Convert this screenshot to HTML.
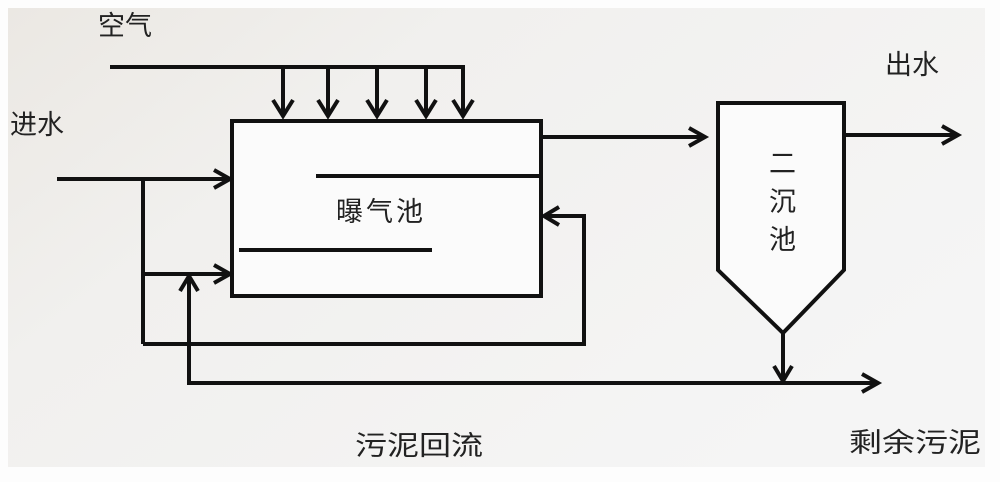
<!DOCTYPE html>
<html><head><meta charset="utf-8"><style>
html,body{margin:0;padding:0;background:#fff;}
svg{display:block;}
text{font-family:"Liberation Sans","Noto Sans CJK SC",sans-serif;fill:#222;}
</style></head><body>
<svg width="1000" height="482" viewBox="0 0 1000 482" xmlns="http://www.w3.org/2000/svg">
<defs>
<linearGradient id="bg" x1="0" y1="0" x2="1" y2="0.6">
<stop offset="0" stop-color="#ebe8e3"/>
<stop offset="0.35" stop-color="#f1f0ee"/>
<stop offset="1" stop-color="#f5f5f5"/>
</linearGradient>
</defs>
<rect x="0" y="0" width="1000" height="482" fill="#fdfdfd"/>
<rect x="8" y="8" width="977" height="459" fill="url(#bg)"/>
<g stroke="#111" stroke-width="4" fill="none" stroke-linecap="butt" stroke-linejoin="miter">
<!-- aeration tank -->
<rect x="232" y="121" width="309" height="175" fill="#fbfbfb"/>
<line x1="316" y1="176" x2="541" y2="176"/>
<line x1="239" y1="250" x2="432" y2="250"/>
<!-- air line -->
<polyline points="110,67 463,67 463,115"/>
<line x1="283" y1="67" x2="283" y2="115"/>
<line x1="328" y1="67" x2="328" y2="115"/>
<line x1="377" y1="67" x2="377" y2="115"/>
<line x1="426" y1="67" x2="426" y2="115"/>
<polyline points="273,100 283,116 293,100"/>
<polyline points="318,100 328,116 338,100"/>
<polyline points="367,100 377,116 387,100"/>
<polyline points="416,100 426,116 436,100"/>
<polyline points="453,100 463,116 473,100"/>
<!-- inlet -->
<line x1="57" y1="179" x2="230" y2="179"/>
<polyline points="214,170 230,179 214,188"/>
<line x1="143" y1="179" x2="143" y2="344"/>
<line x1="143" y1="274" x2="230" y2="274"/>
<polyline points="214,265 230,274 214,283"/>
<!-- loop return -->
<polyline points="143,344 584,344 584,216 544,216"/>
<polyline points="559,207 544,216 559,225"/>
<!-- excess sludge return line -->
<polyline points="189,276 189,383 878,383"/>
<polyline points="180,291 189,276 198,291"/>
<polyline points="862,374 878,383 862,392"/>
<!-- to clarifier -->
<line x1="541" y1="137" x2="705" y2="137"/>
<polyline points="689,128 705,137 689,146"/>
<!-- clarifier -->
<polygon points="718,103 844,103 844,270 783,333 718,270" fill="#fbfbfb"/>
<line x1="844" y1="135" x2="958" y2="135"/>
<polyline points="942,126 958,135 942,144"/>
<line x1="783" y1="333" x2="783" y2="381"/>
<polyline points="774,366 783,381 792,366"/>
</g>
<g font-size="27">
<text x="98" y="35">空气</text>
<text x="10" y="134">进水</text>
<text x="885" y="74">出水</text>
<text x="336" y="221" letter-spacing="3">曝气池</text>
<text x="769" y="173">二</text>
<text x="769" y="211">沉</text>
<text x="769" y="249">池</text>
<text x="355" y="455" textLength="128" lengthAdjust="spacingAndGlyphs">污泥回流</text>
<text x="849" y="452" textLength="132" lengthAdjust="spacingAndGlyphs">剩余污泥</text>
</g>
</svg>
</body></html>
